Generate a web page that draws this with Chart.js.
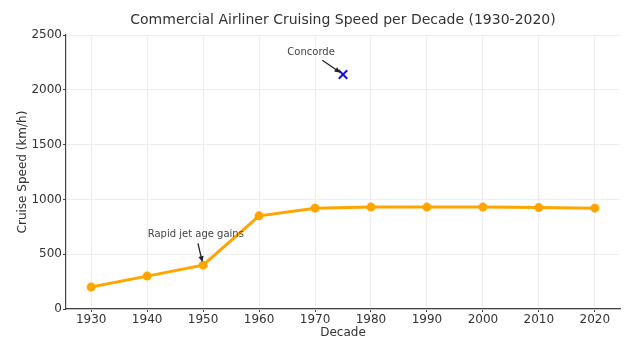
<!DOCTYPE html>
<html>
<head>
<meta charset="utf-8">
<script src="https://cdn.jsdelivr.net/npm/chart.js@4.4.1/dist/chart.umd.min.js"></script>
<style>
  html, body { margin: 0; padding: 0; background: #fff; }
  #wrap { width: 630px; height: 346px; }
</style>
</head>
<body>
<div id="wrap"><canvas id="chart" width="630" height="346"></canvas></div>
<script>
// Data
const decades = [1930, 1940, 1950, 1960, 1970, 1980, 1990, 2000, 2010, 2020];
const cruiseSpeed = [200, 300, 400, 850, 920, 930, 930, 930, 925, 920];
const yTicks = [0, 500, 1000, 1500, 2000, 2500];

// Concorde outlier
const concordeYear = [1975];
const concordeSpeed = [2140];

// Annotations: label, point (x,y), text anchor (x,y) in data units
const noteLabels = ['Concorde', 'Rapid jet age gains'];
const notePointX = [1975, 1950];
const notePointY = [2140, 400];
const noteTextX = [1969.3, 1948.7];
const noteTextY = [2340, 680];

const chartTitle = 'Commercial Airliner Cruising Speed per Decade (1930-2020)';
const fontFamily = '"DejaVu Sans", sans-serif';

// Title centred over the plot area (like matplotlib)
const titlePlugin = {
    id: 'plotTitle',
    afterDraw(chart) {
        const ctx = chart.ctx;
        const area = chart.chartArea;
        ctx.save();
        ctx.font = '14px ' + fontFamily;
        ctx.fillStyle = '#333';
        ctx.textAlign = 'center';
        ctx.textBaseline = 'middle';
        ctx.fillText(chartTitle, (area.left + area.right) / 2, 20);
        ctx.restore();
    }
};

// Draw annotation text + arrows using the chart's own scales
const annotatePlugin = {
    id: 'annotate',
    afterDatasetsDraw(chart) {
        const ctx = chart.ctx;
        const xs = chart.scales.x;
        const ys = chart.scales.y;
        ctx.save();
        noteLabels.forEach((label, i) => {
            const tx = xs.getPixelForValue(noteTextX[i]);
            const ty = ys.getPixelForValue(noteTextY[i]);
            const px = xs.getPixelForValue(notePointX[i]);
            const py = ys.getPixelForValue(notePointY[i]);

            ctx.font = '10px ' + fontFamily;
            ctx.fillStyle = '#444';
            ctx.textAlign = 'center';
            ctx.textBaseline = 'middle';
            ctx.fillText(label, tx, ty);

            // arrow from text centre towards the point, clipped at the text box
            const halfW = ctx.measureText(label).width / 2 + 1;
            const halfH = 6;
            const dx = px - tx, dy = py - ty;
            const len = Math.sqrt(dx * dx + dy * dy);
            const ux = dx / len, uy = dy / len;
            const tBox = Math.min(
                Math.abs(ux) > 1e-6 ? halfW / Math.abs(ux) : Infinity,
                Math.abs(uy) > 1e-6 ? halfH / Math.abs(uy) : Infinity
            );
            const startX = tx + ux * (tBox + 3), startY = ty + uy * (tBox + 3);
            const endX = px - ux * 3, endY = py - uy * 3;

            ctx.strokeStyle = '#222';
            ctx.fillStyle = '#222';
            ctx.lineWidth = 1.3;
            ctx.beginPath();
            ctx.moveTo(startX, startY);
            ctx.lineTo(endX - ux * 3, endY - uy * 3);
            ctx.stroke();

            const head = 6, wing = 2.6;
            ctx.beginPath();
            ctx.moveTo(endX, endY);
            ctx.lineTo(endX - ux * head - uy * wing, endY - uy * head + ux * wing);
            ctx.lineTo(endX - ux * head + uy * wing, endY - uy * head - ux * wing);
            ctx.closePath();
            ctx.fill();
        });
        ctx.restore();
    }
};

const ctx = document.getElementById('chart').getContext('2d');
new Chart(ctx, {
    type: 'line',
    data: {
        datasets: [
            {
                label: 'Cruise speed',
                data: decades.map((d, i) => ({ x: d, y: cruiseSpeed[i] })),
                borderColor: '#FFA500',
                backgroundColor: '#FFA500',
                borderWidth: 3,
                pointRadius: 3,
                pointHoverRadius: 3,
                tension: 0
            },
            {
                label: 'Concorde',
                data: concordeYear.map((d, i) => ({ x: d, y: concordeSpeed[i] })),
                showLine: false,
                pointStyle: 'crossRot',
                pointRadius: 6,
                borderColor: '#1010e0',
                backgroundColor: '#1010e0',
                pointBorderWidth: 2
            }
        ]
    },
    options: {
        responsive: false,
        animation: false,
        layout: { padding: { left: 0, right: 10, top: 35, bottom: 0 } },
        plugins: {
            legend: { display: false },
            tooltip: { enabled: false },
            title: { display: false }
        },
        scales: {
            x: {
                type: 'linear',
                min: 1925.5,
                max: 2024.5,
                afterBuildTicks: scale => { scale.ticks = decades.map(v => ({ value: v })); },
                afterFit: scale => { scale.height = 37; },
                border: { display: true, color: '#444', width: 1.2 },
                grid: { color: '#ededed', tickColor: '#444', tickLength: 3 },
                ticks: {
                    color: '#333',
                    padding: 1,
                    maxRotation: 0,
                    font: { family: fontFamily, size: 12 },
                    callback: v => String(v)
                },
                title: {
                    display: true,
                    text: 'Decade',
                    color: '#333',
                    padding: { top: 0, bottom: 6 },
                    font: { family: fontFamily, size: 12 }
                }
            },
            y: {
                min: 0,
                max: 2500,
                afterBuildTicks: scale => { scale.ticks = yTicks.map(v => ({ value: v })); },
                afterFit: scale => { scale.width = 66; },
                border: { display: true, color: '#444', width: 1.2 },
                grid: { color: '#ededed', tickColor: '#444', tickLength: 3 },
                ticks: {
                    color: '#333',
                    padding: 1,
                    font: { family: fontFamily, size: 12 },
                    callback: v => String(v)
                },
                title: {
                    display: true,
                    text: 'Cruise Speed (km/h)',
                    color: '#333',
                    padding: { top: 16, bottom: 0 },
                    font: { family: fontFamily, size: 12 }
                }
            }
        }
    },
    plugins: [annotatePlugin, titlePlugin]
});
</script>
</body>
</html>
